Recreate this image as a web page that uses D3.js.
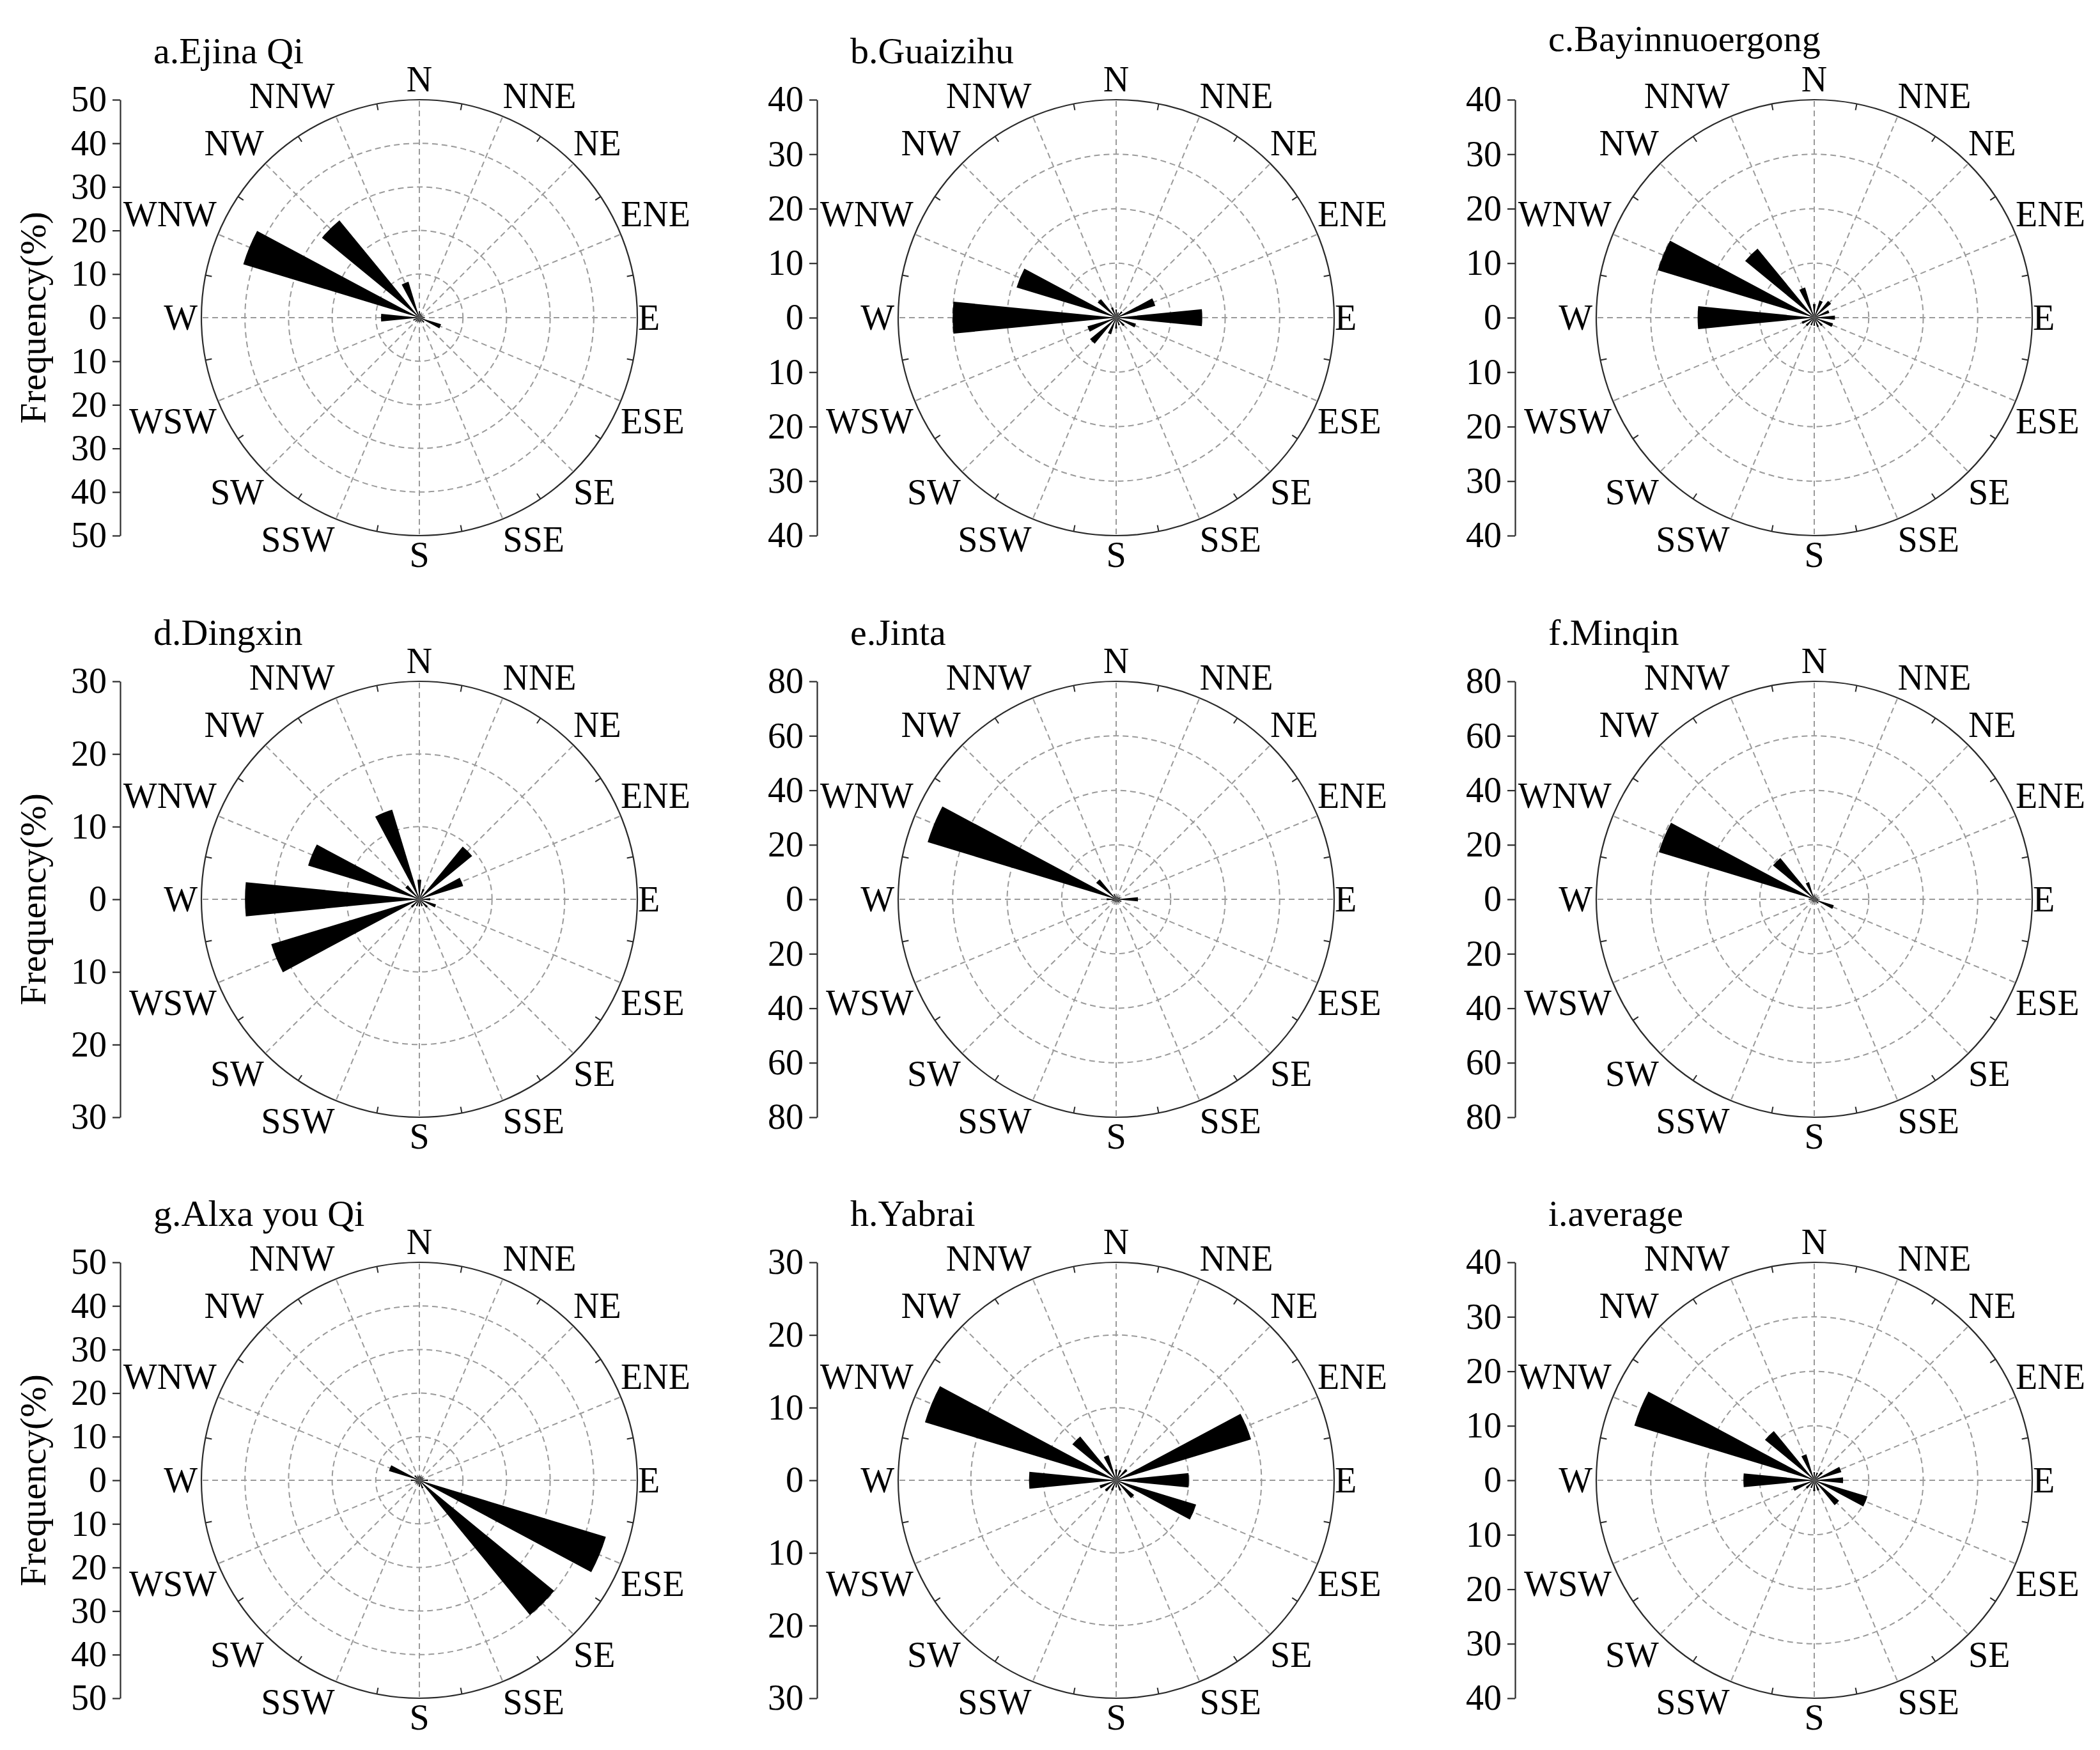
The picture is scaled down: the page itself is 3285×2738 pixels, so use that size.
<!DOCTYPE html>
<html>
<head>
<meta charset="utf-8">
<script src="https://cdn.jsdelivr.net/npm/d3@7"></script>
<style>
  html, body { margin: 0; padding: 0; background: #ffffff; }
  svg { display: block; }
  text { font-family: "Liberation Serif", "Times New Roman", serif; fill: #000; }
</style>
</head>
<body>
<svg id="chart"></svg>
<script>
// ---------------- data ----------------
const directions = ["N","NNE","NE","ENE","E","ESE","SE","SSE","S","SSW","SW","WSW","W","WNW","NW","NNW"];
const panelTitles = ["a.Ejina Qi","b.Guaizihu","c.Bayinnuoergong","d.Dingxin","e.Jinta","f.Minqin","g.Alxa you Qi","h.Yabrai","i.average"];
const axisMax  = [50, 40, 40, 30, 80, 80, 50, 30, 40];
const axisStep = [10, 10, 10, 10, 20, 20, 10, 10, 10];
const yAxisTitle = "Frequency(%)";

// frequency (%) per direction, order as in `directions`
const ejinaQi        = [1.5, 1.0, 0.8, 0.8, 1.2, 5.2, 1.5, 1.0, 1.0, 1.0, 1.2, 1.5, 8.8, 42.2, 28.9, 8.6];
const guaizihu       = [1.5, 1.0, 1.5, 7.5, 15.8, 3.8, 2.0, 1.5, 2.0, 3.2, 6.2, 5.5, 30.0, 19.1, 4.4, 2.0];
const bayinnuoergong = [2.5, 3.3, 4.0, 2.9, 3.8, 3.6, 2.0, 1.8, 1.5, 1.5, 2.0, 2.4, 21.4, 30.0, 16.4, 5.8];
const dingxin        = [2.7, 1.5, 9.4, 6.3, 1.5, 2.4, 1.5, 1.0, 1.0, 1.0, 1.5, 21.3, 24.0, 16.0, 2.5, 12.9];
const jinta          = [1.0, 1.0, 1.0, 1.5, 8.0, 2.0, 1.5, 1.0, 1.0, 1.0, 1.0, 1.5, 3.5, 72.3, 9.5, 2.0];
const minqin         = [1.5, 1.0, 1.0, 1.0, 1.5, 7.5, 2.0, 1.0, 1.0, 1.0, 1.0, 1.0, 2.0, 59.6, 19.6, 6.6];
const alxaYouQi      = [1.0, 1.0, 1.0, 1.0, 2.0, 44.7, 40.0, 2.0, 1.5, 1.0, 1.0, 1.0, 2.0, 7.3, 1.5, 1.0];
const yabrai         = [1.5, 1.5, 2.0, 19.4, 10.0, 11.5, 3.2, 1.5, 1.0, 1.5, 2.0, 2.4, 12.0, 27.5, 7.8, 3.6];
const average        = [1.5, 1.5, 2.0, 5.2, 5.3, 10.2, 5.9, 2.0, 2.0, 1.5, 2.0, 4.1, 13.0, 34.5, 11.7, 5.0];
const panelSeries = [ejinaQi, guaizihu, bayinnuoergong, dingxin, jinta, minqin, alxaYouQi, yabrai, average];

// ---------------- layout ----------------
const W = 3285, H = 2738;
const colX = [656, 1746, 2838];
const rowY = [497, 1407, 2316];
const R = 341;
const FS = 56;

const svg = d3.select("#chart").attr("width", W).attr("height", H)
  .attr("viewBox", `0 0 ${W} ${H}`);
svg.append("rect").attr("width", W).attr("height", H).attr("fill", "#fff");

const step = 2 * Math.PI / directions.length;
const angle = d3.scaleBand()
  .domain(directions)
  .range([-step / 2, 2 * Math.PI - step / 2])
  .paddingInner(0.5)
  .paddingOuter(0.25);
const center = d => angle(d) + angle.bandwidth() / 2;

panelSeries.forEach((series, p) => {
  const cx = colX[p % 3], cy = rowY[Math.floor(p / 3)];
  const max = axisMax[p], st = axisStep[p];
  const r = d3.scaleLinear().domain([0, max]).range([0, R]);
  const g = svg.append("g").attr("transform", `translate(${cx},${cy})`);

  // dashed rings
  const rings = d3.range(st, max, st);
  g.selectAll("circle.ring").data(rings).join("circle")
    .attr("class", "ring").attr("r", d => r(d))
    .attr("fill", "none").attr("stroke", "#9a9a9a")
    .attr("stroke-width", 2).attr("stroke-dasharray", "9,6");

  // dashed spokes
  g.selectAll("line.spoke").data(directions).join("line")
    .attr("class", "spoke")
    .attr("x1", 0).attr("y1", 0)
    .attr("x2", d => R * Math.sin(center(d)))
    .attr("y2", d => -R * Math.cos(center(d)))
    .attr("stroke", "#9a9a9a").attr("stroke-width", 2)
    .attr("stroke-dasharray", "9,6");

  // bars
  const arc = d3.arc()
    .innerRadius(0)
    .outerRadius(d => r(d.v))
    .startAngle(d => angle(d.dir))
    .endAngle(d => angle(d.dir) + angle.bandwidth());
  g.selectAll("path.bar")
    .data(directions.map((dir, i) => ({ dir, v: series[i] })))
    .join("path").attr("class", "bar")
    .attr("d", arc).attr("fill", "#000");

  // outer circle
  g.append("circle").attr("r", r(max)).attr("fill", "none")
    .attr("stroke", "#2b2b2b").attr("stroke-width", 2.2);

  // minor ticks on outer circle
  g.selectAll("line.minor").data(directions).join("line")
    .attr("class", "minor")
    .attr("x1", d => R * Math.sin(center(d) + step / 2))
    .attr("y1", d => -R * Math.cos(center(d) + step / 2))
    .attr("x2", d => (R - 10) * Math.sin(center(d) + step / 2))
    .attr("y2", d => -(R - 10) * Math.cos(center(d) + step / 2))
    .attr("stroke", "#2b2b2b").attr("stroke-width", 2);

  // direction labels
  directions.forEach((dir, i) => {
    const a = center(dir);
    const ix = R * Math.sin(a), iy = -R * Math.cos(a);
    let x, y, anchor;
    if (i === 0) { x = 0; y = -R - 13; anchor = "middle"; }
    else if (i === 8) { x = 0; y = R + 49; anchor = "middle"; }
    else if (i === 4) { x = R + 1; y = 19; anchor = "start"; }
    else if (i === 12) { x = -R - 6; y = 19; anchor = "end"; }
    else {
      const north = (i < 4 || i > 12);
      const east = i < 8;
      x = ix + (east ? 0 : -2);
      y = north ? iy - 13 : iy + 51;
      anchor = east ? "start" : "end";
    }
    g.append("text").attr("x", x).attr("y", y)
      .attr("text-anchor", anchor).attr("font-size", FS).text(dir);
  });

  // radial value axis on the left
  const yScale = d3.scaleLinear().domain([-max, max]).range([cy + R, cy - R]);
  const yAxis = d3.axisLeft(yScale)
    .tickValues(d3.range(-max, max + st / 2, st))
    .tickFormat(d => Math.abs(d))
    .tickSize(12).tickSizeOuter(0).tickPadding(9);
  const ax = svg.append("g").attr("transform", `translate(${cx - 468},0)`).call(yAxis);
  ax.select(".domain").attr("stroke", "#2b2b2b").attr("stroke-width", 2.2);
  ax.selectAll(".tick line").attr("stroke", "#2b2b2b").attr("stroke-width", 2.2);
  ax.selectAll(".tick text")
    .attr("font-family", "Liberation Serif, Times New Roman, serif")
    .attr("font-size", FS).attr("fill", "#000");

  // panel title
  svg.append("text")
    .attr("x", cx - 416)
    .attr("y", cy + (p === 2 ? -417 : -398))
    .attr("font-size", 58).text(panelTitles[p]);

  // y axis title on first column
  if (p % 3 === 0) {
    svg.append("text")
      .attr("transform", `translate(71,${cy}) rotate(-90)`)
      .attr("text-anchor", "middle").attr("font-size", 58)
      .text(yAxisTitle);
  }
});
</script>
</body>
</html>
